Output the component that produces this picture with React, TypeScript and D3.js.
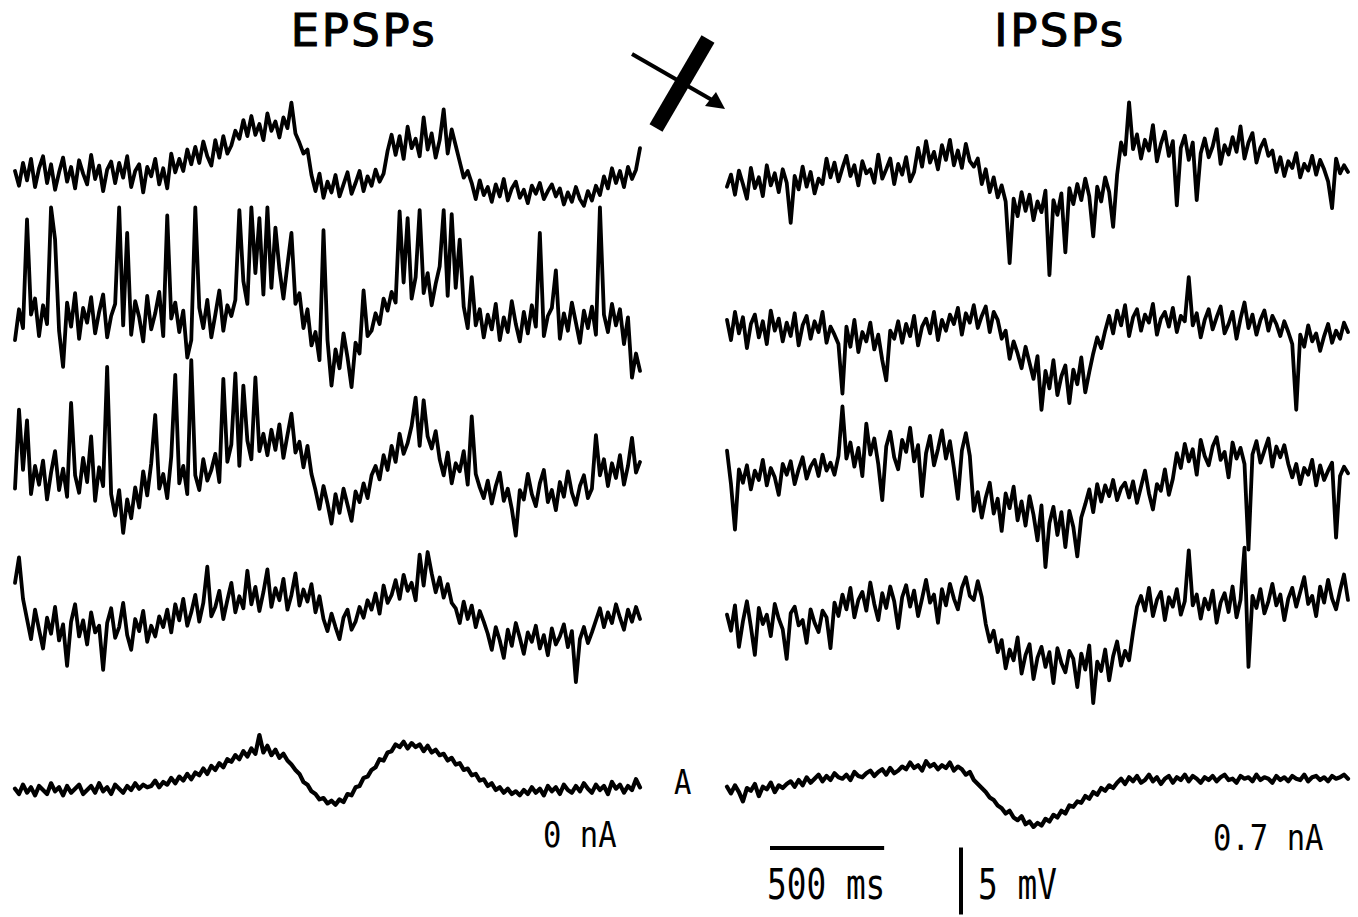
import React from 'react';
import * as d3 from 'd3';

// sweep length of every trace, and the calibration bars
const DURATION_MS = 2720;
const SCALE_BAR_MS = 500;
const SCALE_BAR_MV = 5;

// membrane potential (mV, relative to each trace's resting level)
const epsp1 = [
  0.3, -0.8, 0.9, -0.4, 1.2, -0.9, 0.5, 1.4, -0.6, 0.8, -1.1, 0.2, 1.3, -0.5, 0.6, -1.0, 1.1, 0.1, -0.7, 1.5,
  -0.3, 0.7, -1.2, 0.4, 1.0, -0.6, 0.9, -0.2, 1.4, -0.9, 0.3, 0.8, -1.3, 0.6, -0.1, 1.2, -0.7, 0.5, -1.0, 1.6, 0.2,
  1.2, 0.3, 1.9, 0.8, 2.1, 0.9, 2.5, 1.4, 0.7, 2.6, 1.3, 2.9, 1.6, 2.2, 3.3,
  2.7, 4.1, 2.9, 4.4, 3.0, 3.8, 2.6, 4.6, 3.3, 4.0, 2.8, 4.3, 3.5, 5.4,
  3.1, 2.4, 1.6, 1.9,
  0.0, -1.2, 0.1, -1.7, -0.5, -1.3, 0.0, -1.6, -0.7, 0.2, -1.4, -0.6, 0.3, -1.2, -0.1, -0.8, 0.4, -0.5, 0.1,
  1.8, 3.0, 1.5, 2.9, 1.2, 3.6, 2.0, 2.7, 1.4, 4.3, 1.9, 3.1, 1.3, 2.6, 4.9, 1.6, 3.4, 2.2,
  1.0, -0.2, 0.3,
  -0.6, -1.8, -0.4, -1.5, -0.9, -2.0, -0.7, -1.6, -0.3, -1.9, -1.0, -0.5, -1.7, -1.1, -2.1, -0.8, -1.4, -0.6, -1.8, -1.2, -0.7, -1.6,
  -1.0, -2.2, -1.3, -2.0, -0.9, -1.8, -2.3, -1.2, -1.9, -0.8, -1.5,
  -0.1, -1.0, 0.5, -0.6, 0.3, -0.9, 0.6, -0.3, 0.4, 2.0,
];

const epsp2 = [
  -1.5, 0.8, -0.6, 7.5, 0.4, 1.6, -1.2, 1.1, -0.3, 8.4, 6.0, -0.8, -3.5, 1.3, -0.5, 2.0, -1.4, 0.9, -0.2, 1.7,
  -1.0, 0.6, 1.9, -1.3, 0.3, 1.2, 8.4, -0.4, 6.5, -1.1, 1.4, 0.2, -1.6, 1.8, -0.7, 0.5, 2.1, -1.2, 7.8, 0.1,
  1.3, -0.9, 0.7, -2.8, -1.5, 8.4, 0.9, -0.6, 1.5, -1.3, 0.4, 2.2, -0.8, 1.1, 0.3,
  1.5, 8.2, 2.9, 1.2, 8.4, 3.5, 7.6, 1.9, 8.4, 2.4, 6.9, 3.8, 1.6, 4.1, 6.5,
  1.2, 2.0, -0.6, 0.8, -1.9, -0.9,
  -3.0, 6.7, -1.5, -4.9, -2.2, -3.6, -1.0, -2.8, -5.0, -1.7, -2.5, 2.2, -1.2,
  -0.8, 0.5, -0.3, 1.6, 0.7, 2.1,
  1.3, 8.1, 2.8, 7.6, 1.6, 3.2, 8.2, 2.0, 3.5, 1.1, 2.7, 4.0, 8.2, 1.8, 7.9, 2.4, 6.0,
  1.0, -0.6, 3.2, -0.4,
  0.8, -1.3, 0.4, -0.7, 1.2, -1.5, 0.2, -0.9, 1.4, -0.3, -1.6, 0.6, -1.0, 1.1, -0.5, 6.5, -1.2, 0.3, 0.9, 3.7,
  -1.4, 0.5, -0.8, 1.3, -0.2, -1.7, 0.7, -0.6, 1.0, -1.1, 8.4, 0.4, -0.9, 1.2, -0.4, 0.8, -1.8, 0.2, -4.3, -2.5, -3.8,
];

const epsp3 = [
  -0.8, 5.1, 0.6, 4.3, -1.2, 0.9, -0.5, 1.3, -1.6, 0.4, 2.0, -0.9, 0.7, -1.4, 5.6, 0.2, -1.1, 1.5, -0.3, 3.1, -1.7, 0.8, -0.6, 8.3,
  -1.2, -2.8, -0.9, -4.1, -1.6, -3.0, -0.7, -2.2,
  0.5, -1.3, 1.1, 4.7, -0.8, 0.3, -1.5, 1.6, 7.7, -0.4, 0.9, -1.2, 8.8, 0.2, -0.9, 1.4, -0.2,
  0.6, 1.8, -0.3, 7.4, 1.2, 2.5, 7.8, 0.9, 6.9, 2.8, 1.4, 7.5, 2.0, 3.3,
  1.7, 3.6, 2.1, 4.0, 1.5, 3.2, 4.8, 1.9, 2.7, 0.8, 2.4, 0.3,
  -0.9, -2.3, -0.6, -1.9, -3.4, -1.2, -2.6, -0.8, -2.0, -3.2, -1.0, -1.8, -0.4, -1.5, 0.2,
  0.9, -0.1, 1.7, 0.6, 2.4, 1.2, 3.3, 1.8, 2.6, 3.9, 6.0, 2.4, 5.8, 3.1, 2.2, 3.5,
  1.4, 0.2, 1.9, -0.4, 1.1, 0.5, 2.0, -0.5, 4.6, 0.3, -0.7,
  -1.5, -0.2, -1.9, -0.6, 0.4, -1.7, -0.8, -2.3, -4.3, -0.9, -1.6, 0.3, -1.2, -2.1, -0.4, 0.6, -1.8, -0.9, -2.4, -0.3,
  -1.4, 0.5, -1.1, -2.0, -0.6, 0.2, -1.5, -0.8,
  3.2, 0.2, 1.4, -0.6, 1.1, 0.0, 1.7, -0.5, 0.9, 3.0, 0.4, 1.2,
];

const epsp4 = [
  2.4, 4.3, 1.2,
  -0.3, -1.8, 0.4, -1.1, -2.5, -0.2, -1.4, 0.6, -1.9, -0.7, -3.8, -0.5, 0.8, -1.6, -0.4, -2.2, 0.2, -1.3, -0.8, -4.1,
  -0.6, 0.5, -1.7, -0.9, 0.9, -1.5, -2.6, -0.3, -1.2, 0.3, -2.0, -0.8, -1.6, -0.1,
  -0.9, 0.4, -1.3, 0.8, -0.4, 1.2, -0.8, 0.2, 1.5, -0.5, 0.9, 3.6, -0.1, 0.6, 1.8, -0.3, 1.1, 2.4, 0.2, 1.4, 0.5, 3.3,
  0.8, 2.1, 0.3, 1.7, 3.4, 0.6, 2.0, 1.1, 2.7, 0.4, 1.5, 3.1, 0.7, 1.9, 1.0, 2.3, 0.2, 1.4,
  -0.3, -1.2, 0.1, -0.9, -1.8, -0.2, 0.4, -1.1, -0.5, 0.6,
  -0.2, 1.1, 0.4, 1.6, 0.1, 2.2, 0.9, 1.5, 2.6, 1.2, 3.0, 1.8, 2.4, 1.1, 4.5, 2.2, 4.7, 3.1, 1.7, 2.8, 1.3, 2.3, 0.9,
  0.5, -0.6, 1.0, -0.3, 0.7, -0.9, 0.3, -0.5,
  -1.4, -2.6, -0.9, -1.9, -3.2, -1.1, -2.3, -0.6, -1.7, -2.9, -1.3, -2.0, -0.8, -2.5, -1.5, -3.0, -1.0, -2.2, -1.6, -0.7,
  -2.4, -1.2, -5.0, -1.8, -0.9, -2.1, -1.3,
  -0.4, 0.5, -0.9, 0.2, -0.6, 0.8, -0.2, -1.1, 0.4, -0.5, 0.6, -0.3,
];

const epspAvg = [
  0.1, -0.3, 0.4, -0.2, 0.2, -0.4, 0.3, 0.0, -0.3, 0.5, -0.1, 0.2, -0.4, 0.3, -0.2, 0.1, 0.4, -0.3, 0.0, 0.3,
  -0.2, 0.5, -0.1, 0.2, -0.3, 0.4, 0.1, -0.2, 0.3, 0.0, 0.5, 0.1, 0.4, 0.2,
  0.3, 0.7, 0.2, 0.6, 0.4, 0.9, 0.5, 1.0, 0.7, 1.2, 0.8, 1.3, 1.1, 1.6, 1.2, 1.8, 1.5, 2.0, 1.7, 2.3,
  2.1, 2.6, 2.3, 2.9, 2.5, 3.1, 2.7, 4.1, 2.8, 3.3, 2.6, 3.0, 2.4, 2.7, 2.2,
  1.9, 1.5, 1.2, 0.6, 0.4, -0.1, -0.3, -0.7, -0.6, -1.0, -0.8, -1.1,
  -0.7, -0.9, -0.3, -0.4, 0.2, 0.3, 0.9, 1.0, 1.5, 1.7, 2.3, 2.2, 2.8, 2.9, 3.4, 3.2,
  3.6, 3.1, 3.5, 3.2, 3.4, 2.9, 3.3, 2.8, 3.0, 2.6,
  2.7, 2.2, 2.4, 1.9, 2.0, 1.5, 1.6, 1.1, 1.2, 0.7, 0.8, 0.3, 0.5, 0.0, 0.2, -0.2, 0.1, -0.3,
  -0.1, -0.4, 0.0, -0.3, 0.2, -0.2, 0.1, -0.4, 0.3, -0.1, 0.2, -0.3, 0.4, 0.0, -0.2, 0.3, -0.1, 0.5, 0.1, -0.2,
  0.4, 0.0, 0.3, -0.3, 0.6, 0.1, 0.4, -0.2, 0.3, 0.0, 0.8, 0.2,
];

const ipsp1 = [
  -0.5, 0.4, -1.1, 0.7, -0.3, -1.4, 0.9, -0.6, 0.2, -1.2, 1.1, -0.4, 0.5, -0.9, 0.8, -0.2, -3.2, 0.3, -0.7, 1.0,
  -0.5, 0.6, -1.0, 0.1, -0.3,
  1.6, 0.2, 1.3, -0.1, 0.9, 1.8, 0.3, 1.1, -0.4, 1.4, 0.5, 0.8, -0.2,
  1.9, 0.1, 0.8, 1.6, -0.3, 1.2, 0.4, 1.7, -0.1, 0.6,
  2.4, 1.0, 2.9, 1.3, 2.1, 0.8, 2.6, 1.5, 3.0, 1.1, 2.2, 0.9, 2.7, 1.4, 1.0,
  1.6, -0.3, 0.8, -0.9, 0.2, -1.3, -0.4, -1.6,
  -6.2, -1.4, -2.7, -0.9, -2.3, -1.1, -3.0, -1.6, -2.4, -0.8, -7.1, -1.5, -2.6,
  -1.0, -5.4, -0.6, -1.8, -0.3, -1.5, 0.1, -1.2, -4.2, -0.5, -1.6, 0.2, -0.9, -3.5, 0.4,
  2.8, 1.9, 5.8, 2.3, 3.4, 1.6, 3.0, 2.2, 4.1, 1.4, 2.7, 3.6, 1.8, 2.9, -1.9, 2.4, 3.3, 1.5, 2.8, -1.5,
  2.0, 3.1, 1.7, 2.5, 3.8, 1.2, 2.6, 1.9, 3.2, 2.1, 4.0, 1.6, 2.8, 3.5, 1.3, 2.4, 3.0, 1.8, 2.2,
  0.6, 1.7, 0.3, 1.4, 0.9, 2.0, 0.2, 1.2, 0.7, 1.8, 0.4, 1.5, 0.8, -0.1, -2.1, 1.6, 0.5, 1.1, 0.6,
];

const ipsp2 = [
  0.6, -0.9, 1.2, -0.4, 0.8, -1.5, 0.3, 1.0, -0.7, 0.5, -1.2, 1.3, -0.2, 0.7, -1.0, 0.4, -0.6, 1.1, -1.3, 0.2,
  0.9, -0.8, 0.5, -0.3, 1.2, -1.1, 0.1, -0.5,
  -1.2, -4.9, 0.1, -1.4, 0.6, -1.8, -0.3, -1.0, 0.4, -1.6, -0.5, -2.4, -3.9, -0.2,
  -0.8, 0.5, -1.1, 0.3, -0.6, 0.9, -1.3, 0.1, 0.7, -0.4, 1.2, -0.9, 0.6, -0.2, 1.0, 0.3, 1.5, -0.5, 1.1, 0.4,
  1.7, 0.0, 0.9, 1.6, -0.3, 1.2, 0.6,
  -0.8, -0.2, -2.3, -1.0, -1.9, -3.0, -1.4, -2.6,
  -3.8, -2.1, -6.1, -3.2, -4.5, -2.4, -5.0, -3.6, -2.8, -5.6, -3.1, -4.2, -2.2, -4.8, -3.3,
  -1.9, -0.7, -1.5, -0.2,
  0.9, -0.4, 1.3, 0.2, 1.7, -0.6, 0.8, 1.4, -0.2, 1.0, 0.4, 1.8, -0.5, 0.7, 1.2, 0.1, 1.5, -0.3, 0.9, 0.5,
  3.8, 0.2, 1.1, -0.7, 0.6, 1.4, -0.1, 0.8, 1.6, -0.4, 0.3, 1.2, -0.8, 0.7, 1.9, 0.0, 1.0, -0.5, 0.6, 1.3,
  -0.2, 0.9, 0.3, -0.6, 0.5,
  -0.3, -1.2, -6.1, -0.5, -1.4, 0.2, -1.0, -0.4, -1.7, -0.6, 0.3, -1.1, -0.2, -0.8, 0.4, -0.3,
];

const ipsp3 = [
  1.6, -0.9, -4.3, 0.2, -0.8, 0.5, -1.3, 0.1, -0.6, 0.9, -1.0, 0.3, -0.4, -1.7, 0.6, -0.2, 0.8, -0.9, 0.2, 1.1, -0.5, 0.4,
  0.9, -0.3, 1.3, 0.1, 0.7, -0.2, 1.2,
  4.9, 1.0, 2.2, 0.4, 1.8, -0.3, 3.6, 1.3, 2.5, 0.6, -2.1, 1.9, 3.0, 1.1, 0.2, 2.4, 1.5, 3.3, 0.8, 2.0,
  -1.8, 1.4, 2.7, 0.5, 1.7, 3.1, 1.0, 2.3, 0.3, -2.0, 1.6, 2.9, 1.2,
  -2.9, -1.5, -3.4, -1.9, -0.8, -3.1, -2.0, -4.4, -1.6, -2.7, -1.1, -3.6, -2.2, -4.0, -1.8,
  -3.2, -5.1, -2.5, -7.1, -3.8, -2.6, -4.7, -3.0, -5.6, -2.9, -4.1, -6.3, -3.4,
  -2.4, -1.3, -3.0, -0.9, -2.2, -1.0, -1.8, -0.6, -2.1, -1.2, -0.8,
  -1.9, -0.7, -2.3, -1.1, 0.1, -1.6, -2.8, -0.9, -1.4, 0.2, -1.7, -0.5,
  1.4, 0.3, 2.1, 0.8, 1.7, -0.2, 2.4, 1.2, 0.5, 1.9, 2.6, 0.9, 1.5, -0.4, 2.2, 1.0, 1.8, 0.6, -5.8, 1.3,
  2.3, 0.7, 1.6, 2.5, 0.4, 1.9, 1.1, 2.0, 0.6,
  -0.4, 0.6, -0.9, 0.3, -0.2, 0.9, -1.0, 0.5, -0.6, 0.1, 0.7, -4.9, -0.3, 0.4, -0.1,
];

const ipsp4 = [
  -0.2, -1.4, 0.5, -2.6, -0.7, 0.8, -1.1, -3.2, 0.3, -0.9, -0.2, -1.8, 0.6, -0.5, -1.3, -3.5, -0.1, 0.4, -1.0, -0.6,
  -2.3, 0.2, -0.8, -1.5, 0.1, -0.4, -2.7, 0.7, -0.3,
  1.3, 0.2, 1.8, -0.4, 0.9, 1.5, 0.1, 2.2, 0.6, -0.6, 1.4, 0.3, 1.9, 0.8, -1.2, 1.1, 2.0, 0.4, 1.6, -0.3,
  1.0, 2.4, 0.7, 1.3, -0.8, 1.7, 0.5, 2.1, 1.0, 0.2, 1.8, 2.6, 1.2, 0.9, 2.3,
  1.1, -0.9, -2.2, -1.4,
  -3.0, -2.1, -4.2, -2.8, -3.6, -1.9, -4.6, -3.2, -2.4, -5.0, -3.4, -2.6, -4.1, -3.0, -5.3, -2.7, -3.8, -4.5, -2.9, -3.5,
  -5.6, -3.1, -4.3, -2.5, -6.8, -3.7, -4.4, -2.8, -5.1, -3.3, -2.2, -4.0, -2.9, -3.6,
  -1.5, 0.4,
  1.2, 0.1, 1.8, -0.3, 0.9, 1.5, -0.6, 1.1, 0.4, 1.7, -0.2, 0.8, 4.6, 0.5, 1.3, -0.5, 1.0, 0.2, 1.6, -0.8,
  0.7, 1.4, 0.0, 1.9, -0.4, 0.9, 4.8, -4.1, 1.2, 0.3, 1.7, -0.1, 0.8, 2.1, 0.5, 1.3, -0.6, 1.0, 1.8, 0.4,
  1.5, 2.6, 0.6, 1.2, -0.3, 1.9, 0.7, 2.4, 1.0, 0.2, 1.6, 2.8, 0.9,
];

const ipspAvg = [
  -0.5, -1.0, -0.4, -0.9, -1.6, -0.6, -0.8, -0.3, -1.2, -0.5, -0.7, -0.2, -0.9, -0.4, -0.6,
  -0.3, -0.1, -0.5, 0.0, -0.4, 0.2, -0.2, 0.1, 0.4, -0.1, 0.3, 0.0, 0.5, 0.2, 0.1, 0.4, 0.0, 0.6, 0.3, 0.2,
  0.5, 0.7, 0.3, 0.6, 0.8, 0.4, 0.9, 0.5, 0.7,
  1.0, 0.8, 1.3, 0.9, 1.1, 0.7, 1.4, 1.0, 1.2, 0.8, 1.1, 0.9, 1.3, 0.7, 1.0, 0.8,
  0.4, 0.6, 0.0, -0.3, -0.6, -0.9, -1.3, -1.5, -1.9,
  -2.1, -2.5, -2.3, -2.8, -3.0, -2.7, -3.3, -3.1, -3.5, -3.2, -3.4, -2.9, -3.1, -2.6, -2.8,
  -2.3, -2.5, -1.9, -2.0, -1.6, -1.7, -1.2, -1.4, -0.9, -1.1, -0.6, -0.8, -0.4, -0.6, -0.2,
  0.1, -0.3, 0.2, -0.1, 0.3, -0.2, 0.0, 0.4, -0.1, 0.2, -0.3, 0.1, 0.3, -0.2, 0.2, 0.0, 0.4, -0.1, 0.3, 0.1,
  -0.2, 0.2, 0.0, 0.3, -0.1, 0.2, 0.4, 0.0, 0.1, -0.2, 0.3, 0.1, 0.2, -0.1, 0.4, 0.0, 0.2, 0.1, -0.2, 0.3,
  0.0, 0.2, -0.1, 0.3, 0.1, 0.0, 0.4, -0.1, 0.2, 0.3, 0.0, 0.2, -0.1, 0.3, 0.1, 0.2, 0.4, 0.1,
];

const epspTraces = [epsp1, epsp2, epsp3, epsp4, epspAvg];
const ipspTraces = [ipsp1, ipsp2, ipsp3, ipsp4, ipspAvg];
const holdingCurrents = ['0 nA', '0.7 nA'];

// layout
const W = 1358;
const H = 917;
const MV_HALF_SPAN = 67; // px for 5 mV
const leftRange: [number, number] = [15, 640];
const rightRange: [number, number] = [727, 1348];
const epspRest = [175, 320, 478, 615, 790];
const ipspRest = [180, 328, 472, 612, 780];

const xLeft = d3.scaleLinear().domain([0, DURATION_MS]).range(leftRange);
const xRight = d3.scaleLinear().domain([0, DURATION_MS]).range(rightRange);

const yFor = (rest: number) =>
  d3.scaleLinear().domain([-SCALE_BAR_MV, SCALE_BAR_MV]).range([rest + MV_HALF_SPAN, rest - MV_HALF_SPAN]);

function Trace({ values, x, rest, width }: { values: number[]; x: d3.ScaleLinear<number, number>; rest: number; width: number }) {
  const y = yFor(rest);
  const dt = DURATION_MS / (values.length - 1);
  const line = d3.line<number>().x((_, i) => x(i * dt)).y(d => y(d));
  return <path d={line(values) || ''} fill="none" stroke="#000" strokeWidth={width} strokeLinejoin="round" strokeLinecap="round" />;
}

const mono = '"DejaVu Sans Mono", monospace';

function Label({ x, y, size, squeeze, children }: { x: number; y: number; size: number; squeeze: number; children: React.ReactNode }) {
  return (
    <text transform={`translate(${x},${y}) scale(${squeeze},1)`} fontFamily={mono} fontSize={size} fill="#000">
      {children}
    </text>
  );
}

const titleStyle = {
  fontFamily: '"DejaVu Sans", sans-serif',
  fontSize: 45,
  letterSpacing: 2.5,
  fill: '#000',
  stroke: '#000',
  strokeWidth: 1.1,
};

export default function App() {
  const barY = 848;
  const barX0 = xRight(0) + 43;
  const yCal = yFor(881);
  return (
    <svg width={W} height={H} style={{ position: 'absolute', left: 0, top: 0, background: '#fff' }}>
      <rect width={W} height={H} fill="#fff" />
      <text x={364} y={46} textAnchor="middle" style={titleStyle}>EPSPs</text>
      <text x={1060} y={46} textAnchor="middle" style={titleStyle}>IPSPs</text>

      {/* crossed-out arrow */}
      <line x1={632} y1={54} x2={712} y2={100} stroke="#000" strokeWidth={4} />
      <path d="M725,109 L705,106 L716,92 Z" fill="#000" />
      <line x1={708} y1={39} x2={656} y2={128} stroke="#000" strokeWidth={15} />

      {epspTraces.map((v, i) => (
        <Trace key={'e' + i} values={v} x={xLeft} rest={epspRest[i]} width={i === 4 ? 4.2 : 3.8} />
      ))}
      {ipspTraces.map((v, i) => (
        <Trace key={'i' + i} values={v} x={xRight} rest={ipspRest[i]} width={i === 4 ? 4.2 : 3.8} />
      ))}

      <Label x={674} y={794} size={34} squeeze={0.85}>A</Label>
      <Label x={543} y={847} size={36} squeeze={0.85}>{holdingCurrents[0]}</Label>
      <Label x={1213} y={850} size={36} squeeze={0.85}>{holdingCurrents[1]}</Label>

      {/* calibration */}
      <line x1={barX0} x2={barX0 + xRight(SCALE_BAR_MS) - xRight(0)} y1={barY} y2={barY} stroke="#000" strokeWidth={4} />
      <line x1={961} x2={961} y1={yCal(SCALE_BAR_MV / 2)} y2={yCal(-SCALE_BAR_MV / 2)} stroke="#000" strokeWidth={4} />
      <Label x={767} y={899} size={42} squeeze={0.78}>{`${SCALE_BAR_MS} ms`}</Label>
      <Label x={978} y={899} size={42} squeeze={0.78}>{`${SCALE_BAR_MV} mV`}</Label>
    </svg>
  );
}
